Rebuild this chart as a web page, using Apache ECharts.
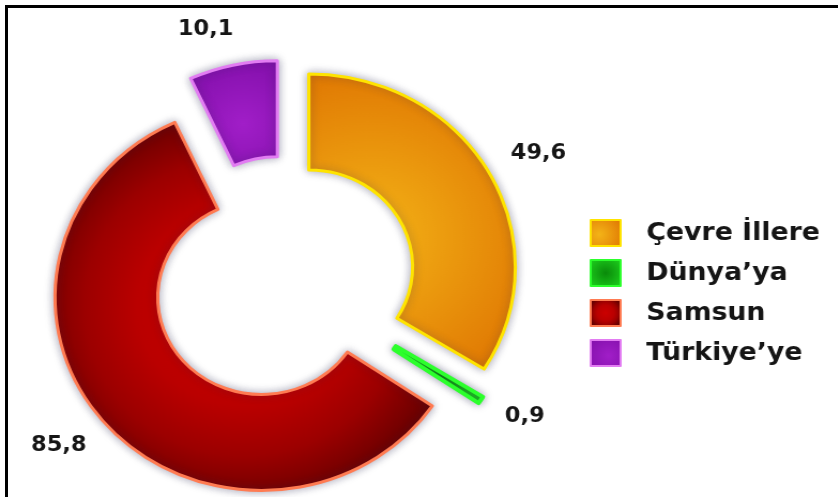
<!DOCTYPE html>
<html>
<head>
<meta charset="utf-8">
<script src="https://cdn.jsdelivr.net/npm/echarts@6/dist/echarts.min.js"></script>
<style>
  html, body { margin: 0; padding: 0; width: 838px; height: 497px; overflow: hidden; background: #fff; }
  /* the drawing is slightly wider than tall, so the canvas is stretched horizontally */
  #chart { position: absolute; left: 0; top: 0; width: 783px; height: 497px; transform: scaleX(1.07); transform-origin: 0 0; }
  #frame { position: absolute; left: 5px; top: 5px; width: 900px; height: 600px;
           border-top: 3px solid #000; border-left: 3px solid #000; pointer-events: none; }
</style>
</head>
<body>
<div id="chart"></div>
<div id="frame"></div>
<script>
// Share of destinations
const categories = ['Çevre İllere', 'Dünya’ya', 'Samsun', 'Türkiye’ye'];
const values = [49.6, 0.9, 85.8, 10.1];

// Slice appearance, one entry per category
const fillStops = [
  [[0, '#f4b417'], [1, '#dd6f00']],
  [[0, '#0a8a0a'], [1, '#1bc81b']],
  [[0, '#cc0000'], [0.5, '#ba0000'], [0.75, '#9c0000'], [1, '#6a0000']],
  [[0, '#a11ec8'], [1, '#800ea8']]
];
const fillCenter = [[0.3, 0.55, 1.0], [0.5, 0.5, 0.6], [0.5, 0.5, 0.56], [0.6, 0.6, 0.9]];
const borderColors = ['#ffe400', '#2cff2c', '#ff7b52', '#e27cf2'];
const borderWidths = [3, 4, 3, 3];
// small nudges of the value labels around their anchor
const labelShift = [[3, 4], [0, -10], [-5, -9], [-15, 12]];

const fmt = v => String(v).replace('.', ',');

function fill(i) {
  const c = fillCenter[i];
  return {
    type: 'radial', x: c[0], y: c[1], r: c[2],
    colorStops: fillStops[i].map(s => ({ offset: s[0], color: s[1] }))
  };
}

const sliceData = categories.map((name, i) => ({
  name: name,
  value: values[i],
  selected: true,
  itemStyle: {
    color: fill(i),
    borderColor: borderColors[i],
    borderWidth: borderWidths[i],
    shadowBlur: 8,
    shadowColor: 'rgba(40,40,80,0.38)'
  }
}));

const labelData = categories.map((name, i) => ({
  name: name,
  value: values[i],
  selected: true
}));

const center = [265, 280];
const chart = echarts.init(document.getElementById('chart'), null, { width: 783, height: 497 });

chart.setOption({
  backgroundColor: 'transparent',
  animation: false,
  legend: {
    data: categories,
    orient: 'vertical',
    left: 551,
    top: 219,
    padding: 0,
    icon: 'rect',
    itemWidth: 28,
    itemHeight: 26,
    itemGap: 12,
    selectedMode: false,
    textStyle: {
      fontFamily: 'DejaVu Sans',
      fontWeight: 'bold',
      fontSize: 25,
      lineHeight: 26,
      color: '#151515',
      padding: [0, 0, 0, 19]
    }
  },
  series: [
    {
      name: 'Dağılım',
      type: 'pie',
      center: center,
      radius: [97, 193],
      startAngle: 90,
      clockwise: true,
      selectedMode: 'multiple',
      selectedOffset: 27,
      avoidLabelOverlap: false,
      label: { show: false },
      labelLine: { show: false },
      emphasis: { disabled: true },
      silent: true,
      data: sliceData
    },
    {
      name: 'Değerler',
      type: 'pie',
      center: center,
      radius: [234, 244],
      startAngle: 90,
      clockwise: true,
      selectedMode: 'multiple',
      selectedOffset: 27,
      avoidLabelOverlap: false,
      itemStyle: { color: 'rgba(0,0,0,0)', borderWidth: 0 },
      label: {
        show: true,
        position: 'inside',
        formatter: p => fmt(p.value),
        fontFamily: 'DejaVu Sans',
        fontWeight: 'bold',
        fontSize: 21,
        color: '#151515'
      },
      labelLayout: p => ({ dx: labelShift[p.dataIndex][0], dy: labelShift[p.dataIndex][1] }),
      labelLine: { show: false },
      emphasis: { disabled: true },
      silent: true,
      legendHoverLink: false,
      data: labelData
    }
  ]
});
</script>
</body>
</html>
